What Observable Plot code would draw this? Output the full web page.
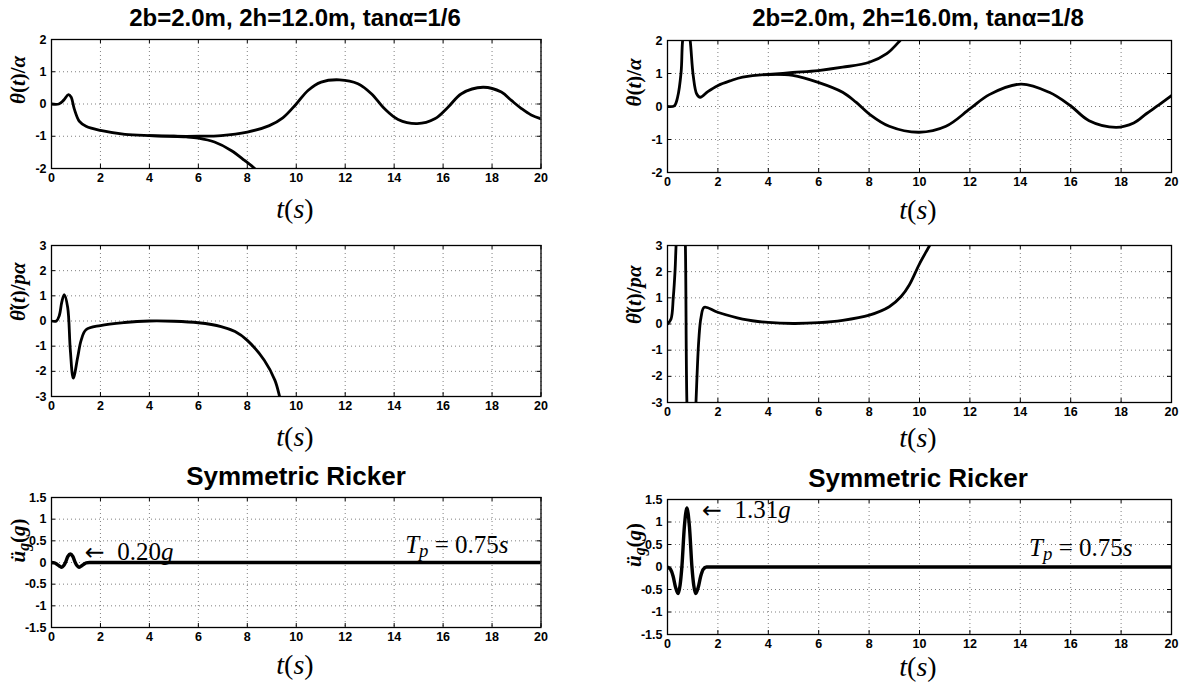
<!DOCTYPE html>
<html><head><meta charset="utf-8">
<script src="https://cdn.jsdelivr.net/npm/d3@7"></script>
<script src="https://cdn.jsdelivr.net/npm/@observablehq/plot@0.6"></script>
<style>
body{margin:0;background:#fff;overflow:hidden}
#wrap{position:relative;width:1183px;height:686px;background:#fff;font-family:"Liberation Sans",Arial,sans-serif;overflow:hidden}
.title{position:absolute;transform:translate(-50%,-50%);font-size:24px;font-weight:bold;white-space:nowrap;color:#000}
.title.big{font-size:26px}
.xl{position:absolute;transform:translate(-50%,-50%);font-family:"Liberation Serif",serif;font-size:28px;white-space:nowrap;color:#000}
.panel{position:absolute}
</style></head><body><div id="wrap"></div>
<script>
// ---------- tick labels ----------
const xTicks = [0, 2, 4, 6, 8, 10, 12, 14, 16, 18, 20];
const yTicksTheta = [-2, -1, 0, 1, 2];
const yTicksRate = [-3, -2, -1, 0, 1, 2, 3];
const yTicksAcc = [-1.5, -1, -0.5, 0, 0.5, 1, 1.5];

// ---------- titles ----------
const titleLeft = "2b=2.0m, 2h=12.0m, tanα=1/6";
const titleRight = "2b=2.0m, 2h=16.0m, tanα=1/8";
const titleRicker = "Symmetric Ricker";

// ---------- panel 1: theta/alpha, 2h=12 ----------
const p1aT = [0, 0.3, 0.5, 0.69, 0.8, 0.93, 1.14, 1.41, 2.0, 3.0, 4.0, 5.0, 6.0, 6.93, 8.0, 8.9, 9.45, 10.0, 10.48, 11.02, 11.77, 12.52, 13.07, 13.61, 14.16, 14.94, 15.66, 16.2, 16.75, 17.63, 18.38, 18.79, 19.2, 19.6, 20];
const p1aV = [0, 0, 0.12, 0.29, 0.22, -0.15, -0.54, -0.69, -0.82, -0.94, -0.98, -1.0, -1.0, -0.98, -0.87, -0.67, -0.43, 0.0, 0.42, 0.68, 0.75, 0.63, 0.32, -0.15, -0.48, -0.61, -0.46, -0.1, 0.32, 0.52, 0.37, 0.11, -0.14, -0.34, -0.46];
const p1bT = [4.0, 5.0, 5.5, 6.0, 6.66, 7.34, 7.89, 8.3, 8.45];
const p1bV = [-0.98, -1.0, -1.02, -1.06, -1.18, -1.44, -1.75, -2.0, -2.12];

// ---------- panel 2: theta/alpha, 2h=16 ----------
const p2aT = [0, 0.27, 0.4, 0.54, 0.6, 0.75, 0.9, 1.02, 1.16, 1.3, 1.6, 1.99, 2.5, 2.98, 4.0, 4.97, 5.98, 6.95, 7.48, 8.01, 8.8, 9.99, 11.05, 12.02, 12.77, 14.03, 15.15, 15.98, 16.73, 17.8, 18.5, 19.0, 19.5, 20];
const p2aV = [0, 0.02, 0.28, 1.04, 2.0, 2.8, 2.0, 0.94, 0.38, 0.28, 0.45, 0.63, 0.78, 0.89, 0.97, 0.94, 0.73, 0.43, 0.13, -0.23, -0.6, -0.78, -0.6, -0.06, 0.36, 0.68, 0.43, 0.03, -0.43, -0.63, -0.5, -0.22, 0.05, 0.33];
const p2bT = [4.0, 4.97, 5.98, 6.95, 8.01, 8.7, 9.23, 9.4];
const p2bV = [0.97, 1.03, 1.09, 1.19, 1.34, 1.6, 2.0, 2.15];

// ---------- panel 3: theta-dot/(p alpha), 2h=12 ----------
const p3T = [0, 0.2, 0.32, 0.42, 0.52, 0.66, 0.77, 0.89, 1.07, 1.21, 1.41, 2.0, 2.98, 4.0, 5.0, 6.0, 6.93, 7.5, 8.0, 8.7, 9.13, 9.32, 9.4];
const p3V = [0, 0, 0.22, 0.75, 1.05, 0.55, -1.17, -2.27, -1.44, -0.77, -0.35, -0.18, -0.06, 0, -0.01, -0.07, -0.22, -0.42, -0.77, -1.57, -2.36, -3.0, -3.3];

// ---------- panel 4: theta-dot/(p alpha), 2h=16 ----------
const p4T = [0, 0.14, 0.23, 0.3, 0.34, 0.45, 0.55, 0.65, 0.71, 0.77, 0.85, 0.95, 1.05, 1.13, 1.24, 1.33, 1.46, 1.99, 2.98, 4.0, 5.0, 6.0, 6.95, 8.01, 8.8, 9.27, 9.6, 10.0, 10.4, 10.5];
const p4V = [0, 0.19, 1.02, 2.04, 3.0, 5, 6, 5, 3.0, -3.0, -5, -6, -5, -3.0, -0.64, 0.25, 0.64, 0.45, 0.19, 0.06, 0.02, 0.05, 0.14, 0.34, 0.66, 1.05, 1.5, 2.3, 3.0, 3.2];

// ---------- panels 5/6: ground acceleration (g) ----------
const p5T = [0, 0.12, 0.22, 0.32, 0.42, 0.5, 0.57, 0.67, 0.77, 0.87, 0.97, 1.04, 1.12, 1.22, 1.32, 1.42, 1.55, 20];
const p5V = [0, -0.01, -0.04, -0.08, -0.11, -0.07, 0, 0.14, 0.2, 0.14, 0, -0.07, -0.11, -0.08, -0.04, -0.01, 0, 0];
const p6T = [0, 0.12, 0.22, 0.32, 0.42, 0.5, 0.57, 0.67, 0.77, 0.87, 0.97, 1.04, 1.12, 1.22, 1.32, 1.42, 1.55, 20];
const p6V = [0, -0.05, -0.2, -0.45, -0.59, -0.4, 0, 0.9, 1.31, 0.9, 0, -0.4, -0.59, -0.45, -0.2, -0.05, 0, 0];

// ---------- annotations ----------
const peakLeft = "← 0.20g";
const peakRight = "← 1.31g";
const pulseLabel = "Tp = 0.75s";
const yLabTheta = "θ(t)/α";
const yLabRate = "θ̇(t)/pα";
const yLabAcc = "üg(g)";

const zip = (T, V) => T.map((t, i) => ({t, v: V[i]}));
const fmt = d => String(d);

const panels = [
  {left: 50.5, top: 39, w: 489.5, h: 129, yDomain: [-2, 2], yTicks: yTicksTheta, ylab: yLabTheta, sw: 2.8, curve: "catmull-rom",
   series: [zip(p1aT, p1aV), zip(p1bT, p1bV)], notes: []},
  {left: 666.5, top: 40, w: 504, h: 132, yDomain: [-2, 2], yTicks: yTicksTheta, ylab: yLabTheta, sw: 2.8, curve: "catmull-rom",
   series: [zip(p2aT, p2aV), zip(p2bT, p2bV)], notes: []},
  {left: 50.5, top: 245, w: 489.5, h: 151, yDomain: [-3, 3], yTicks: yTicksRate, ylab: yLabRate, sw: 2.8, curve: "catmull-rom",
   series: [zip(p3T, p3V)], notes: []},
  {left: 666.5, top: 245, w: 504, h: 157, yDomain: [-3, 3], yTicks: yTicksRate, ylab: yLabRate, sw: 2.8, curve: "catmull-rom",
   series: [zip(p4T, p4V)], notes: []},
  {left: 50.5, top: 497, w: 489.5, h: 130, yDomain: [-1.5, 1.5], yTicks: yTicksAcc, ylab: yLabAcc, sw: 3.4, curve: "monotone-x",
   series: [zip(p5T, p5V)], notes: [{t: 1.36, v: 0.245, s: peakLeft, fs: 25}, {t: 14.45, v: 0.4, s: pulseLabel, fs: 25}]},
  {left: 666.5, top: 499, w: 504, h: 135, yDomain: [-1.5, 1.5], yTicks: yTicksAcc, ylab: yLabAcc, sw: 3.4, curve: "monotone-x",
   series: [zip(p6T, p6V)], notes: [{t: 1.37, v: 1.26, s: peakRight, fs: 25}, {t: 14.35, v: 0.42, s: pulseLabel, fs: 25}]}
];

const wrap = document.getElementById("wrap");
const mL = 50, mT = 10, mR = 10, mB = 24;

function richify(svg) {
  d3.select(svg).selectAll("text").each(function() {
    const el = d3.select(this);
    const s = this.textContent;
    let parts = null;
    if (s === yLabTheta) parts = [["θ", "i"], ["(", ""], ["t", "i"], [")/", ""], ["α", "i"]];
    else if (s === yLabRate) parts = [["θ̇", "i"], ["(", ""], ["t", "i"], [")/", ""], ["pα", "i"]];
    else if (s === yLabAcc) parts = [["ü", "i"], ["g", "sub"], ["(", ""], ["g", "i"], [")", ""]];
    else if (s === peakLeft || s === peakRight) parts = [["←", "arrow"], ["\u2002" + s.slice(2, -1), ""], ["g", "i"]];
    else if (s === pulseLabel) parts = [["T", "i"], ["p", "sub"], [" = 0.75", ""], ["s", "i"]];
    if (!parts) return;
    el.text(null);
    for (const [txt, st] of parts) {
      const ts = el.append("tspan").text(txt);
      if (st === "i") ts.attr("font-style", "italic");
      if (st === "sub") ts.attr("font-style", "italic").attr("baseline-shift", "-22%").attr("font-size", "75%");
      if (st === "") ts.attr("font-style", "normal");
      if (st === "arrow") ts.attr("font-family", '"DejaVu Sans", sans-serif').attr("font-size", "95%");
    }
  });
}

panels.forEach(cfg => {
  const svg = Plot.plot({
    width: cfg.w + mL + mR,
    height: cfg.h + mT + mB,
    marginLeft: mL, marginTop: mT, marginRight: mR, marginBottom: mB,
    style: {fontFamily: '"Liberation Sans", Arial, sans-serif', fontSize: "12.5px", fontWeight: "bold", color: "#000", background: "transparent", overflow: "visible"},
    x: {domain: [0, 20], axis: null},
    y: {domain: cfg.yDomain, axis: null},
    marks: [
      Plot.gridX(xTicks, {stroke: "#000", strokeOpacity: 0.5, strokeDasharray: "1,3", strokeWidth: 1}),
      Plot.gridY(cfg.yTicks, {stroke: "#000", strokeOpacity: 0.5, strokeDasharray: "1,3", strokeWidth: 1}),
      ...cfg.series.map(d => Plot.line(d, {x: "t", y: "v", stroke: "#000", strokeWidth: cfg.sw, curve: cfg.curve, clip: true})),
      Plot.ruleX(xTicks, {insetTop: cfg.h - 4, stroke: "#000"}),
      Plot.ruleX(xTicks, {insetBottom: cfg.h - 4, stroke: "#000"}),
      Plot.ruleY(cfg.yTicks, {insetRight: cfg.w - 4, stroke: "#000"}),
      Plot.ruleY(cfg.yTicks, {insetLeft: cfg.w - 4, stroke: "#000"}),
      Plot.axisX({ticks: xTicks, tickSize: 0, tickPadding: 5, tickFormat: fmt, label: null}),
      Plot.axisY({ticks: cfg.yTicks, tickSize: 0, tickPadding: 5, tickFormat: fmt, label: null}),
      Plot.frame({stroke: "#000", strokeWidth: 1.3}),
      Plot.text([cfg.ylab], {frameAnchor: "left", text: d => d, rotate: -90, dx: -33, fontSize: 21, fontFamily: '"Liberation Serif", serif', fontWeight: "bold", letterSpacing: "3px"}),
      Plot.text(cfg.notes, {x: "t", y: "v", text: "s", textAnchor: "start", fontSize: d => d.fs, fontWeight: "normal", fontFamily: '"Liberation Serif", serif'})
    ]
  });
  richify(svg);
  const div = document.createElement("div");
  div.className = "panel";
  div.style.left = (cfg.left - mL) + "px";
  div.style.top = (cfg.top - mT) + "px";
  div.appendChild(svg);
  wrap.appendChild(div);
});

function addText(cls, html, x, y) {
  const d = document.createElement("div");
  d.className = cls;
  d.innerHTML = html;
  d.style.left = x + "px";
  d.style.top = y + "px";
  wrap.appendChild(d);
}
addText("title", titleLeft, 295, 18);
addText("title", titleRight, 918, 18);
addText("title big", titleRicker, 296, 476);
addText("title big", titleRicker, 918, 478);
const tLabel = "<i>t</i>(<i>s</i>)";
[[295, 209], [918, 210], [295, 437], [918, 438], [295, 665], [918, 667]].forEach(([x, y]) => addText("xl", tLabel, x, y));
</script>
</body></html>
